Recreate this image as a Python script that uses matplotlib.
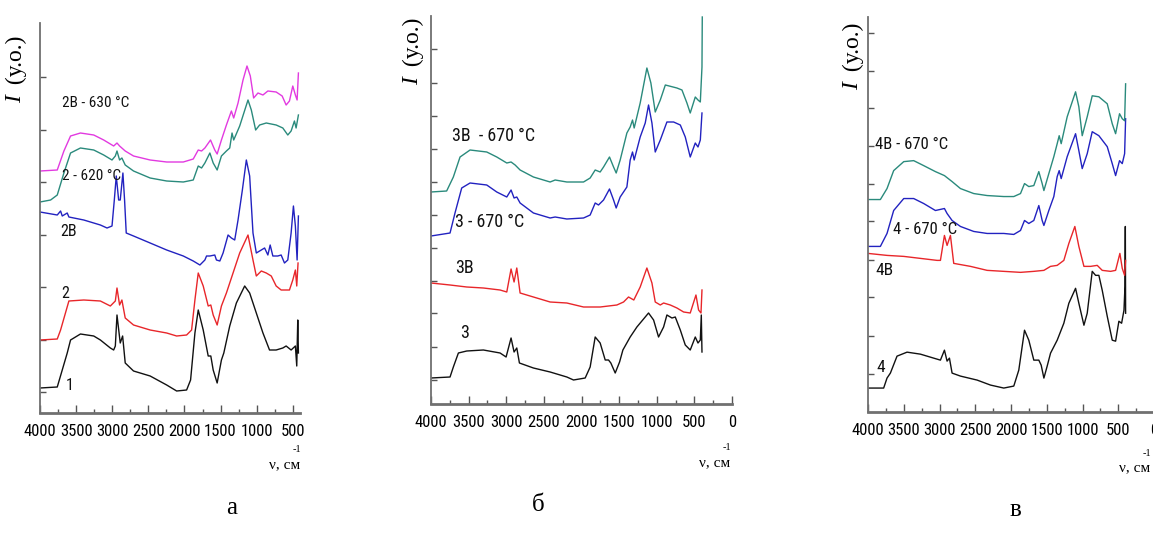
import matplotlib
matplotlib.use("Agg")
import matplotlib.pyplot as plt
import numpy as np
from matplotlib import font_manager
from matplotlib.font_manager import FontProperties

# ---------------- data (wavenumber cm-1, intensity a.u.) ----------------
# Panel a
a1_wn = [4000, 3761, 3692, 3623, 3577, 3440, 3256, 3164, 3026, 2980, 2957, 2934, 2889, 2856, 2820, 2705, 2475, 2246, 2108, 1970, 1915, 1855, 1809, 1740, 1671, 1635, 1602, 1547, 1488, 1455, 1373, 1281, 1166, 1097, 1005, 913, 822, 730, 638, 592, 523, 464, 445, 431, 422]
a1_I = [25, 26, 43, 60, 73, 79, 77, 73, 65, 63, 67, 98, 70, 77, 50, 42, 37, 28, 22, 23, 33, 80, 103, 83, 57, 57, 43, 30, 53, 60, 87, 110, 127, 120, 100, 80, 63, 63, 65, 67, 63, 67, 47, 93, 60]

a2_wn = [4000, 3761, 3715, 3600, 3394, 3164, 3026, 2957, 2934, 2898, 2866, 2820, 2705, 2475, 2246, 2108, 1970, 1901, 1855, 1809, 1740, 1671, 1635, 1602, 1547, 1488, 1419, 1327, 1235, 1120, 1051, 1005, 936, 867, 798, 730, 661, 546, 500, 464, 445, 427]
a2_I = [73, 74, 83, 112, 113, 112, 107, 112, 125, 108, 113, 95, 88, 83, 80, 77, 78, 83, 113, 140, 127, 107, 108, 98, 88, 107, 120, 140, 160, 178, 153, 137, 142, 140, 137, 127, 123, 123, 133, 143, 127, 150]

a2B_wn = [4000, 3761, 3715, 3692, 3623, 3600, 3394, 3164, 3072, 3003, 2971, 2944, 2911, 2889, 2852, 2829, 2806, 2705, 2475, 2246, 2016, 1878, 1786, 1717, 1694, 1648, 1580, 1557, 1510, 1465, 1396, 1350, 1304, 1258, 1198, 1143, 1097, 1051, 1005, 936, 890, 845, 813, 776, 707, 661, 615, 569, 523, 491, 464, 440, 422]
a2B_I = [201, 198, 202, 197, 200, 196, 193, 188, 185, 187, 213, 237, 213, 213, 240, 213, 180, 177, 170, 163, 157, 152, 148, 153, 157, 157, 158, 153, 152, 160, 178, 175, 173, 193, 223, 253, 237, 180, 160, 163, 165, 158, 168, 157, 157, 158, 150, 153, 180, 207, 187, 153, 197]

a2T_wn = [4000, 3853, 3761, 3669, 3577, 3440, 3256, 3118, 3003, 2957, 2934, 2898, 2866, 2820, 2705, 2475, 2246, 2016, 1878, 1809, 1763, 1717, 1648, 1602, 1547, 1488, 1419, 1373, 1341, 1318, 1235, 1120, 1074, 1014, 959, 867, 730, 638, 569, 523, 477, 454, 422]
a2T_I = [211, 213, 218, 240, 260, 265, 263, 258, 253, 257, 262, 253, 255, 248, 242, 235, 232, 231, 233, 247, 245, 250, 260, 250, 243, 257, 262, 265, 280, 273, 287, 313, 303, 283, 288, 290, 288, 285, 278, 282, 292, 285, 298]

a2BT_wn = [4000, 3761, 3669, 3577, 3440, 3256, 3118, 2980, 2934, 2898, 2820, 2705, 2475, 2246, 2016, 1878, 1809, 1763, 1717, 1639, 1580, 1547, 1488, 1419, 1350, 1318, 1258, 1189, 1134, 1088, 1042, 982, 913, 845, 730, 647, 592, 546, 500, 464, 440, 422]
a2BT_I = [242, 243, 262, 277, 280, 278, 273, 267, 270, 267, 262, 257, 253, 251, 251, 254, 263, 262, 265, 273, 263, 259, 273, 288, 302, 295, 310, 333, 347, 337, 315, 320, 318, 322, 321, 317, 308, 312, 327, 318, 313, 340]

# Panel б
b3_wn = [4000, 3747, 3703, 3636, 3525, 3304, 3082, 3002, 2936, 2896, 2860, 2825, 2639, 2417, 2195, 2106, 1951, 1885, 1818, 1752, 1685, 1641, 1610, 1552, 1494, 1450, 1353, 1264, 1109, 1042, 976, 909, 865, 798, 754, 687, 621, 555, 488, 452, 421, 408, 399]
b3_I = [26, 27, 37, 51, 53, 54, 51, 47, 66, 52, 56, 41, 36, 32, 27, 24, 26, 37, 67, 61, 44, 44, 41, 31, 42, 54, 67, 77, 91, 84, 67, 77, 89, 86, 87, 74, 59, 54, 67, 61, 64, 89, 52]

b3B_wn = [4000, 3747, 3525, 3304, 3082, 2993, 2936, 2896, 2860, 2816, 2639, 2417, 2195, 1973, 1752, 1530, 1441, 1375, 1305, 1220, 1131, 1064, 1020, 953, 909, 820, 732, 643, 555, 479, 444, 412, 399]
b3B_I = [121, 119, 117, 116, 114, 112, 135, 122, 136, 111, 107, 102, 101, 97, 97, 99, 102, 107, 104, 117, 136, 121, 102, 99, 101, 99, 96, 92, 91, 109, 94, 91, 114]

b3T_wn = [4000, 3747, 3681, 3592, 3481, 3259, 3126, 2993, 2936, 2896, 2860, 2816, 2639, 2417, 2350, 2195, 1973, 1885, 1818, 1774, 1707, 1628, 1574, 1539, 1486, 1397, 1353, 1322, 1300, 1220, 1153, 1109, 1064, 1020, 953, 865, 776, 687, 621, 555, 488, 452, 421, 399]
b3T_I = [168, 171, 191, 216, 221, 219, 212, 207, 214, 206, 207, 201, 191, 186, 187, 185, 186, 189, 201, 199, 204, 215, 204, 196, 207, 217, 244, 252, 244, 267, 281, 299, 281, 252, 264, 282, 282, 279, 267, 247, 261, 257, 264, 291]

b3BT_wn = [4000, 3792, 3703, 3614, 3481, 3259, 3126, 2993, 2936, 2882, 2816, 2639, 2417, 2350, 2195, 1973, 1885, 1818, 1752, 1707, 1628, 1574, 1539, 1486, 1397, 1353, 1322, 1300, 1220, 1131, 1078, 1020, 953, 886, 732, 665, 599, 555, 488, 452, 421, 399, 395]
b3BT_I = [212, 213, 227, 247, 254, 252, 247, 241, 242, 239, 234, 227, 222, 224, 222, 222, 226, 234, 232, 237, 247, 237, 231, 244, 271, 277, 284, 276, 301, 336, 321, 292, 304, 319, 316, 314, 301, 291, 307, 304, 302, 337, 387]

# Panel в
c4_wn = [4000, 3781, 3734, 3687, 3594, 3454, 3267, 3081, 2987, 2931, 2894, 2861, 2824, 2707, 2474, 2287, 2101, 1961, 1891, 1811, 1751, 1681, 1611, 1578, 1540, 1494, 1447, 1354, 1261, 1191, 1097, 1051, 980, 934, 864, 817, 771, 724, 654, 584, 537, 491, 453, 420, 406, 401, 397]
c4_I = [24, 24, 34, 39, 56, 60, 58, 54, 52, 62, 51, 54, 39, 36, 32, 27, 24, 26, 42, 82, 72, 52, 52, 47, 34, 46, 59, 72, 89, 109, 124, 109, 87, 99, 141, 137, 137, 122, 96, 72, 71, 91, 89, 102, 126, 186, 99]

c4B_wn = [4000, 3734, 3500, 3267, 3034, 2987, 2931, 2894, 2847, 2801, 2567, 2334, 2101, 1867, 1681, 1540, 1447, 1354, 1261, 1191, 1107, 1051, 980, 887, 794, 724, 607, 537, 477, 444, 411, 397]
c4B_I = [159, 157, 156, 154, 152, 152, 177, 167, 177, 149, 146, 142, 141, 140, 141, 142, 146, 147, 152, 169, 186, 166, 146, 146, 147, 142, 141, 142, 159, 144, 137, 152]

c4T_wn = [4000, 3827, 3734, 3641, 3500, 3361, 3221, 3057, 2931, 2894, 2824, 2707, 2521, 2334, 2101, 1961, 1867, 1811, 1751, 1681, 1611, 1564, 1540, 1471, 1401, 1354, 1326, 1298, 1214, 1097, 1051, 1004, 934, 864, 771, 654, 584, 537, 482, 444, 411, 397]
c4T_I = [166, 166, 179, 202, 214, 214, 209, 202, 204, 199, 192, 186, 181, 179, 179, 178, 182, 192, 189, 192, 207, 192, 187, 202, 216, 236, 242, 234, 256, 279, 262, 244, 259, 281, 277, 266, 249, 237, 252, 249, 259, 294]

c4BT_wn = [4000, 3827, 3734, 3641, 3500, 3361, 3221, 3057, 2931, 2824, 2707, 2521, 2334, 2101, 1961, 1867, 1811, 1751, 1681, 1611, 1564, 1540, 1471, 1401, 1354, 1326, 1298, 1214, 1097, 1051, 1004, 934, 864, 771, 654, 584, 537, 482, 444, 411, 397]
c4BT_I = [213, 213, 224, 242, 251, 252, 247, 241, 237, 231, 224, 219, 217, 216, 216, 219, 229, 226, 227, 241, 229, 222, 239, 256, 269, 277, 269, 296, 321, 306, 277, 296, 317, 316, 309, 289, 279, 299, 294, 292, 329]

# labels
a_labels = ["2B - 630 °C", "2 - 620 °C", "2B", "2", "1"]
b_labels = ["3B  - 670 °C", "3 - 670 °C", "3B", "3"]
c_labels = ["4B - 670 °C", "4 - 670 °C", "4B", "4"]
panel_letters = ["а", "б", "в"]
x_ticks_major = [4000, 3500, 3000, 2500, 2000, 1500, 1000, 500, 0]

# ---------------- fonts ----------------
def find_condensed():
    prefs = ["Liberation Sans Narrow", "Roboto Condensed", "Open Sans Condensed",
             "Noto Sans Condensed", "DejaVu Sans Condensed"]
    entries = font_manager.fontManager.ttflist
    for p in prefs:
        for f in entries:
            if f.name == p and f.style == "normal" and f.weight in (400, "normal", "regular"):
                return f.fname
    for f in entries:
        nm = (f.name + " " + str(f.fname)).lower()
        if ("condensed" in nm or "narrow" in nm) and f.style == "normal" and "bold" not in nm \
                and "semi" not in nm and "light" not in nm and "medium" not in nm \
                and "black" not in nm and "thin" not in nm and "extra" not in nm and "italic" not in nm:
            return f.fname
    for f in entries:
        if f.stretch in ("condensed", "semi-condensed") and f.style == "normal" and f.weight in (400, "normal"):
            return f.fname
    return None


cond_path = find_condensed()


def cprop(size):
    if cond_path:
        return FontProperties(fname=cond_path, size=size)
    return FontProperties(family=["Liberation Sans", "DejaVu Sans"], size=size * 0.85)


serif = ["Liberation Serif", "DejaVu Serif"]

# ---------------- style ----------------
BLACK = "#111111"
RED = "#e8262a"
BLUE = "#2222c0"
TEAL = "#2a8a7c"
MAGENTA = "#e23ae0"

W, H = 1153, 534
fig = plt.figure(figsize=(W / 100, H / 100), dpi=100)


def px_axes(left, top, right, bottom):
    return fig.add_axes([left / W, 1 - bottom / H, (right - left) / W, (bottom - top) / H])


def style(ax, xmin, ylim, yticks):
    ax.set_xlim(4000, xmin)
    ax.set_ylim(*ylim)
    for s in ["top", "right"]:
        ax.spines[s].set_visible(False)
    ax.spines["left"].set_color("#707070")
    ax.spines["left"].set_linewidth(1.3)
    ax.spines["bottom"].set_color("#707070")
    ax.spines["bottom"].set_linewidth(2.0)
    ax.set_xticks([t for t in x_ticks_major if t >= xmin])
    ax.set_xticklabels([str(t) for t in x_ticks_major if t >= xmin], fontproperties=cprop(12))
    ax.set_xticks([t for t in np.arange(3750, -1, -500) if t >= xmin], minor=True)
    ax.tick_params(axis="x", which="major", direction="in", length=6, width=1, color="#555555", pad=8)
    ax.tick_params(axis="x", which="minor", direction="in", length=3, width=1, color="#555555")
    ax.set_yticks(yticks)
    ax.set_yticklabels([])
    ax.tick_params(axis="y", direction="in", length=4, width=1, color="#555555")
    ax.patch.set_alpha(0)


def lbl(ax, x, y, s, size=13):
    ax.text(x, y, s, transform=ax.transData, fontproperties=cprop(size), color="#111111",
            va="center", ha="left")


# Panel a
axa = px_axes(40, 23, 300, 413)
style(axa, 400, (0, 390), [21, 73.5, 126, 178.5, 231, 283.5, 336])
axa.plot(a1_wn, a1_I, color=BLACK, lw=1.0)
axa.plot(a2_wn, a2_I, color=RED, lw=1.0)
axa.plot(a2B_wn, a2B_I, color=BLUE, lw=1.0)
axa.plot(a2T_wn, a2T_I, color=TEAL, lw=1.0)
axa.plot(a2BT_wn, a2BT_I, color=MAGENTA, lw=1.0)
lbl(axa, 3700, 310, a_labels[0], 11)
lbl(axa, 3700, 237, a_labels[1], 11)
lbl(axa, 3720, 182, a_labels[2], 11.5)
lbl(axa, 3700, 120, a_labels[3], 11.5)
lbl(axa, 3650, 27, a_labels[4], 11.5)

# Panel б
axb = px_axes(431, 16, 732, 404)
style(axb, 0, (0, 388), [24, 57, 91, 123, 156, 189, 222, 255, 288, 321, 355])
axb.plot(b3_wn, b3_I, color=BLACK, lw=1.0)
axb.plot(b3B_wn, b3B_I, color=RED, lw=1.0)
axb.plot(b3T_wn, b3T_I, color=BLUE, lw=1.0)
axb.plot(b3BT_wn, b3BT_I, color=TEAL, lw=1.0)
lbl(axb, 3720, 268, b_labels[0], 13)
lbl(axb, 3680, 182, b_labels[1], 13)
lbl(axb, 3680, 136, b_labels[2], 13)
lbl(axb, 3610, 71, b_labels[3], 13)

# Panel в
axc = px_axes(868, 17, 1154, 412)
style(axc, 0, (0, 396), [38, 76, 115, 152, 191, 229, 267, 305, 342, 380])
axc.plot(c4_wn, c4_I, color=BLACK, lw=1.0)
axc.plot(c4B_wn, c4B_I, color=RED, lw=1.0)
axc.plot(c4T_wn, c4T_I, color=BLUE, lw=1.0)
axc.plot(c4BT_wn, c4BT_I, color=TEAL, lw=1.0)
lbl(axc, 3900, 268, c_labels[0], 12)
lbl(axc, 3650, 183, c_labels[1], 12)
lbl(axc, 3900, 142, c_labels[2], 12.5)
lbl(axc, 3880, 45, c_labels[3], 12.5)

# y labels "I (у.о.)"
for (xp, ybot) in [(16, 103), (413, 85), (853, 90)]:
    fig.text(xp / W, 1 - ybot / H, "I", rotation=90, fontsize=17, family=serif, style="italic",
             ha="center", va="bottom")
    fig.text(xp / W, 1 - (ybot - 13) / H, " (у.о.)", rotation=90, fontsize=17, family=serif,
             ha="center", va="bottom")

# x axis labels "ν, см" with -1
for (xp, yp) in [(300, 465), (730, 463), (1150, 468)]:
    fig.text(xp / W, 1 - yp / H, "ν, см", fontsize=11, family=serif, ha="right", va="center")
    fig.text((xp + 1) / W, 1 - (yp - 15) / H, "-1", fontsize=7.5, family=serif, ha="right", va="center")

# panel letters
for (xp, yp), s in zip([(232, 508), (538, 505), (1015, 510)], panel_letters):
    fig.text(xp / W, 1 - yp / H, s, fontsize=18, family=serif, ha="center", va="center")

fig.savefig("out.png", dpi=100)
